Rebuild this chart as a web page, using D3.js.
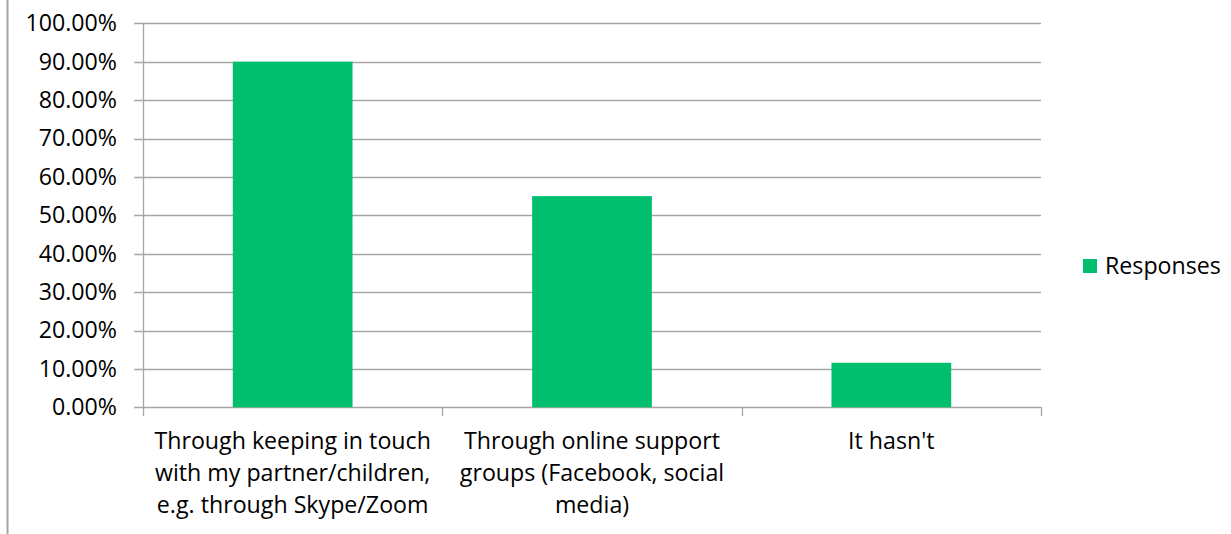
<!DOCTYPE html>
<html>
<head>
<meta charset="utf-8">
<script src="https://cdn.jsdelivr.net/npm/d3@7"></script>
<style>
  html, body { margin: 0; padding: 0; background: #fff; }
  svg { display: block; }
  text { font-family: "Open Sans", "Noto Sans", sans-serif; fill: #000; }
</style>
</head>
<body>
<svg id="chart" width="1231" height="534"></svg>
<script>
// Survey answers and their share of responses
const categories = [
  ["Through keeping in touch", "with my partner/children,", "e.g. through Skype/Zoom"],
  ["Through online support", "groups (Facebook, social", "media)"],
  ["It hasn't"]
];
const values = [0.90, 0.55, 0.116];
const yTicks = [0, 0.1, 0.2, 0.3, 0.4, 0.5, 0.6, 0.7, 0.8, 0.9, 1.0];
const seriesName = "Responses";

const svg = d3.select("#chart");
const W = 1231, H = 534;
const m = { left: 143, right: 190, top: 23.3, bottom: 126.7 };
const fontSize = 23.2;

// outer frame edge on the left
svg.append("line")
  .attr("x1", 7.5).attr("x2", 7.5).attr("y1", 0).attr("y2", H)
  .attr("stroke", "#a6a6a6").attr("stroke-width", 2);

const x = d3.scaleBand()
  .domain(d3.range(categories.length))
  .range([m.left, W - m.right])
  .paddingInner(0.6).paddingOuter(0.3);

const xBand = d3.scaleBand()
  .domain(d3.range(categories.length))
  .range([m.left, W - m.right]);

const y = d3.scaleLinear().domain([0, 1]).range([H - m.bottom, m.top]);

// horizontal gridlines with short ticks to the left
const grid = svg.append("g");
grid.selectAll("line").data(yTicks).join("line")
  .attr("x1", m.left - 9).attr("x2", W - m.right)
  .attr("y1", d => Math.round(y(d)) + 0.5).attr("y2", d => Math.round(y(d)) + 0.5)
  .attr("stroke", "#a6a6a6").attr("stroke-width", 1.3);

// y axis line
svg.append("line")
  .attr("x1", m.left + 0.5).attr("x2", m.left + 0.5)
  .attr("y1", Math.round(y(1))).attr("y2", Math.round(y(0)) + 0.5)
  .attr("stroke", "#a6a6a6").attr("stroke-width", 1.3);

// y tick labels
const yAxis = d3.axisLeft(y).tickValues(yTicks)
  .tickFormat(d => (d * 100).toFixed(2) + "%").tickSize(0).tickPadding(26);
const yg = svg.append("g").attr("transform", `translate(${m.left},0)`).call(yAxis);
yg.select(".domain").remove();
yg.selectAll("text").attr("font-size", fontSize).attr("font-family", null).attr("fill", "#000");

// category separators below the baseline
const bounds = d3.range(categories.length + 1).map(i =>
  i < categories.length ? xBand(i) : xBand(i - 1) + xBand.bandwidth());
svg.append("g").selectAll("line").data(bounds).join("line")
  .attr("x1", d => Math.round(d) + 0.5).attr("x2", d => Math.round(d) + 0.5)
  .attr("y1", Math.round(y(0))).attr("y2", Math.round(y(0)) + 9)
  .attr("stroke", "#a6a6a6").attr("stroke-width", 1.3);

// bars
svg.append("g").selectAll("rect").data(values).join("rect")
  .attr("x", (d, i) => x(i))
  .attr("width", x.bandwidth())
  .attr("y", d => y(d))
  .attr("height", d => y(0) - y(d))
  .attr("fill", "#00bf6f");

// category labels (wrapped lines)
const lab = svg.append("g").selectAll("text").data(categories).join("text")
  .attr("text-anchor", "middle")
  .attr("font-size", fontSize)
  .attr("transform", (d, i) => `translate(${xBand(i) + xBand.bandwidth() / 2},${y(0) + 42})`);
lab.selectAll("tspan").data(d => d).join("tspan")
  .attr("x", 0).attr("y", (d, j) => j * 32)
  .text(d => d);

// legend
const lg = svg.append("g").attr("transform", "translate(1083,259)");
lg.append("rect").attr("width", 14).attr("height", 14).attr("fill", "#00bf6f");
lg.append("text").attr("x", 22).attr("y", 7).attr("dy", "0.35em")
  .attr("font-size", fontSize).text(seriesName);
</script>
</body>
</html>
